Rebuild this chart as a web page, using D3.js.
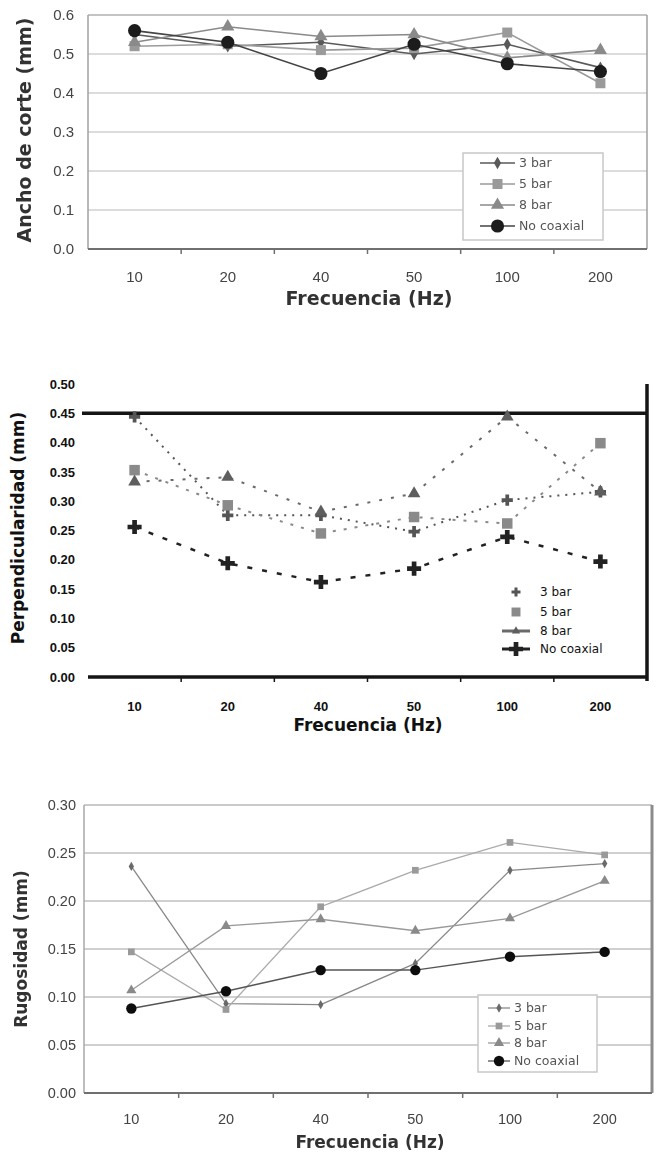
<!DOCTYPE html>
<meta charset="utf-8">
<title>Frecuencia (Hz)</title>
<script src="https://d3js.org/d3.v7.min.js"></script>
<style>
body { margin: 0; background: #fff; }
svg { display: block; font-family: 'DejaVu Sans', sans-serif; }
</style>
<body>
<svg id="chart" width="657" height="1154"></svg>
<script>
var freqLabels = ["10", "20", "40", "50", "100", "200"];
var seriesNames = ["3 bar", "5 bar", "8 bar", "No coaxial"];

// Ancho de corte (mm)
var anchoTicks = [0, 0.1, 0.2, 0.3, 0.4, 0.5, 0.6];
var ancho3bar = [0.55, 0.52, 0.53, 0.50, 0.525, 0.465];
var ancho5bar = [0.52, 0.525, 0.51, 0.515, 0.555, 0.425];
var ancho8bar = [0.53, 0.57, 0.545, 0.55, 0.49, 0.51];
var anchoNoCoaxial = [0.56, 0.53, 0.45, 0.525, 0.475, 0.455];

// Perpendicularidad (mm)
var perpTicks = [0, 0.05, 0.10, 0.15, 0.20, 0.25, 0.30, 0.35, 0.40, 0.45, 0.50];
var perp3bar = [0.444, 0.276, 0.276, 0.248, 0.302, 0.316];
var perp5bar = [0.353, 0.293, 0.245, 0.273, 0.262, 0.399];
var perp8bar = [0.333, 0.341, 0.282, 0.313, 0.444, 0.316];
var perpNoCoaxial = [0.256, 0.194, 0.162, 0.185, 0.239, 0.197];

// Rugosidad (mm)
var rugTicks = [0, 0.05, 0.10, 0.15, 0.20, 0.25, 0.30];
var rug3bar = [0.236, 0.093, 0.092, 0.135, 0.232, 0.239];
var rug5bar = [0.147, 0.087, 0.194, 0.232, 0.261, 0.248];
var rug8bar = [0.107, 0.174, 0.181, 0.169, 0.182, 0.221];
var rugNoCoaxial = [0.088, 0.106, 0.128, 0.128, 0.142, 0.147];

var svg = d3.select("#chart");
svg.append("defs").append("filter").attr("id", "soft")
    .append("feGaussianBlur").attr("stdDeviation", 0.7);

function drawChart(cfg) {
    var g = svg.append("g");
    if (cfg.blur) g.attr("filter", "url(#soft)");

    var x = d3.scaleBand().domain(freqLabels).range([cfg.left, cfg.right]);
    var y = d3.scaleLinear().domain(cfg.domain).range([cfg.bottom, cfg.top]);
    var cx = function(c) { return x(c) + x.bandwidth() / 2; };

    // grid lines
    g.selectAll(".grid").data(cfg.grid).enter().append("line")
        .attr("x1", cfg.gridX0 || cfg.left).attr("x2", cfg.right)
        .attr("y1", function(d) { return y(d); }).attr("y2", function(d) { return y(d); })
        .style("stroke", cfg.gridColor).style("stroke-width", cfg.gridWidth);

    // frame
    if (cfg.topColor) {
        g.append("line").attr("x1", cfg.left).attr("x2", cfg.right)
            .attr("y1", cfg.top).attr("y2", cfg.top)
            .style("stroke", cfg.topColor).style("stroke-width", 1.5);
    }
    if (cfg.leftColor) {
        g.append("line").attr("x1", cfg.left).attr("x2", cfg.left)
            .attr("y1", cfg.top).attr("y2", cfg.bottom)
            .style("stroke", cfg.leftColor).style("stroke-width", 1.5);
    }
    g.append("line").attr("x1", cfg.right).attr("x2", cfg.right)
        .attr("y1", cfg.top).attr("y2", cfg.bottom + cfg.rightExtra)
        .style("stroke", cfg.rightColor).style("stroke-width", cfg.rightWidth);
    g.append("line").attr("x1", cfg.left).attr("x2", cfg.right)
        .attr("y1", cfg.bottom).attr("y2", cfg.bottom)
        .style("stroke", cfg.axisColor).style("stroke-width", cfg.axisWidth);

    // x boundary ticks
    g.selectAll(".xtick").data(freqLabels.slice(1)).enter().append("line")
        .attr("x1", function(d) { return x(d); }).attr("x2", function(d) { return x(d); })
        .attr("y1", cfg.bottom).attr("y2", cfg.bottom + 5)
        .style("stroke", cfg.axisColor).style("stroke-width", 1.5);

    // y axis labels
    var ya = g.append("g").attr("transform", "translate(" + cfg.left + ",0)")
        .call(d3.axisLeft(y).tickValues(cfg.ticks).tickFormat(d3.format(cfg.fmt))
            .tickSize(0).tickPadding(cfg.yPad));
    ya.select(".domain").remove();
    ya.selectAll("text").style("font-size", cfg.tickFont + "px")
        .style("fill", cfg.textColor).style("font-weight", cfg.tickWeight);

    // x axis labels
    var xa = g.append("g").attr("transform", "translate(0," + cfg.bottom + ")")
        .call(d3.axisBottom(x).tickSize(0).tickPadding(cfg.xPad));
    xa.select(".domain").remove();
    xa.selectAll("text").style("font-size", cfg.tickFont + "px")
        .style("fill", cfg.textColor).style("font-weight", cfg.tickWeight);

    // titles
    g.append("text").attr("x", cfg.xTitle[0]).attr("y", cfg.xTitle[1])
        .attr("text-anchor", "middle").style("font-weight", "bold")
        .style("font-size", cfg.titleFont + "px").style("fill", cfg.titleColor)
        .text("Frecuencia (Hz)");
    g.append("text")
        .attr("transform", "translate(" + cfg.yTitle[0] + "," + cfg.yTitle[1] + ") rotate(-90)")
        .attr("text-anchor", "middle").attr("dy", "0.35em").style("font-weight", "bold")
        .style("font-size", cfg.titleFont + "px").style("fill", cfg.titleColor)
        .text(cfg.yLabel);

    // series
    var line = d3.line().x(function(d) { return cx(d.c); }).y(function(d) { return y(d.v); });
    cfg.series.forEach(function(vals, i) {
        var st = cfg.styles[i];
        var pts = vals.map(function(v, j) { return { c: freqLabels[j], v: v }; });
        g.append("path").datum(pts).attr("d", line)
            .style("fill", "none").style("stroke", st.line || st.color)
            .style("stroke-width", st.width).style("stroke-dasharray", st.dash || null);
    });
    cfg.series.forEach(function(vals, i) {
        var st = cfg.styles[i];
        var sym = d3.symbol().type(st.symbol).size(st.size);
        g.selectAll(null).data(vals).enter().append("path")
            .attr("d", sym)
            .attr("transform", function(d, j) { return "translate(" + cx(freqLabels[j]) + "," + y(d) + ")"; })
            .style("fill", st.color);
    });

    // legend
    var L = cfg.legend;
    if (L.box) {
        g.append("rect").attr("x", L.box[0]).attr("y", L.box[1])
            .attr("width", L.box[2] - L.box[0]).attr("height", L.box[3] - L.box[1])
            .style("fill", "#fff").style("stroke", "#c8c8c8").style("stroke-width", 1.5);
    }
    seriesNames.forEach(function(name, i) {
        var st = cfg.styles[i];
        var ly = L.y[i];
        if (st.legendLine !== false) {
            g.append("line").attr("x1", L.x0).attr("x2", L.x1).attr("y1", ly).attr("y2", ly)
                .style("stroke", st.line || st.color).style("stroke-width", L.lineWidth || st.width);
        }
        g.append("path").attr("d", d3.symbol().type(st.symbol).size(st.legendSize || st.size))
            .attr("transform", "translate(" + (L.x0 + L.x1) / 2 + "," + ly + ")")
            .style("fill", st.color);
        g.append("text").attr("x", L.tx).attr("y", ly).attr("dy", "0.35em")
            .style("font-size", L.font + "px").style("fill", L.color).text(name);
    });
}

// chart 1: Ancho de corte
drawChart({
    blur: true,
    left: 88, right: 647, top: 15, bottom: 249,
    domain: [0, 0.6], ticks: anchoTicks, fmt: ".1f",
    grid: anchoTicks.slice(1, 6), gridColor: "#dcdcdc", gridWidth: 2,
    topColor: "#b0b0b0", leftColor: "#a0a0a0",
    rightColor: "#a0a0a0", rightWidth: 1.5, rightExtra: 0,
    axisColor: "#707070", axisWidth: 2,
    yPad: 14, xPad: 22, tickFont: 15, tickWeight: "normal", textColor: "#444",
    titleFont: 19, titleColor: "#333",
    xTitle: [369, 305], yTitle: [24, 130], yLabel: "Ancho de corte (mm)",
    series: [ancho3bar, ancho5bar, ancho8bar, anchoNoCoaxial],
    styles: [
        { color: "#5a5a5a", symbol: d3.symbolDiamond, size: 45, width: 1.6 },
        { color: "#9a9a9a", symbol: d3.symbolSquare, size: 100, width: 1.6 },
        { color: "#8a8a8a", symbol: d3.symbolTriangle, size: 75, width: 1.6 },
        { color: "#1a1a1a", symbol: d3.symbolCircle, size: 135, width: 1.6, line: "#444" }
    ],
    legend: { box: [463, 153, 603, 240], x0: 480, x1: 515, tx: 519, y: [163, 184, 205, 226],
        font: 12.5, color: "#555", lineWidth: 1.5 }
});

// chart 2: Perpendicularidad
drawChart({
    blur: false,
    left: 88, right: 647, top: 384, bottom: 677,
    domain: [0, 0.5], ticks: perpTicks, fmt: ".2f",
    grid: [0.45], gridX0: 82, gridColor: "#151515", gridWidth: 3.5,
    topColor: null, leftColor: null,
    rightColor: "#151515", rightWidth: 3.5, rightExtra: 4,
    axisColor: "#151515", axisWidth: 3.5,
    yPad: 13, xPad: 25, tickFont: 13, tickWeight: "bold", textColor: "#111",
    titleFont: 17, titleColor: "#111",
    xTitle: [368, 731], yTitle: [18, 528], yLabel: "Perpendicularidad (mm)",
    series: [perp3bar, perp5bar, perp8bar, perpNoCoaxial],
    styles: [
        { color: "#555", symbol: d3.symbolCross, size: 70, width: 2, dash: "2,6", legendLine: false, legendSize: 45 },
        { color: "#8a8a8a", symbol: d3.symbolSquare, size: 110, width: 2, dash: "3,8", legendLine: false, legendSize: 80 },
        { color: "#5e5e5e", symbol: d3.symbolTriangle, size: 70, width: 2, dash: "3,9", line: "#6a6a6a", legendSize: 30 },
        { color: "#222", symbol: d3.symbolCross, size: 110, width: 2.5, dash: "5,10" }
    ],
    legend: { box: null, x0: 502, x1: 530, tx: 540, y: [592, 612, 631, 649],
        font: 12, color: "#111", lineWidth: 3 }
});

// chart 3: Rugosidad
drawChart({
    blur: true,
    left: 84, right: 652, top: 805, bottom: 1093,
    domain: [0, 0.30], ticks: rugTicks, fmt: ".2f",
    grid: rugTicks.slice(1, 6), gridColor: "#d0d0d0", gridWidth: 1.8,
    topColor: "#b8b8b8", leftColor: "#a8a8a8",
    rightColor: "#8c8c8c", rightWidth: 3, rightExtra: 0,
    axisColor: "#707070", axisWidth: 2,
    yPad: 8, xPad: 21, tickFont: 14.5, tickWeight: "normal", textColor: "#444",
    titleFont: 17, titleColor: "#333",
    xTitle: [370, 1148], yTitle: [21, 949], yLabel: "Rugosidad (mm)",
    series: [rug3bar, rug5bar, rug8bar, rugNoCoaxial],
    styles: [
        { color: "#6a6a6a", symbol: d3.symbolDiamond, size: 25, width: 1.3, line: "#888" },
        { color: "#9a9a9a", symbol: d3.symbolSquare, size: 45, width: 1.3, line: "#aaa" },
        { color: "#8a8a8a", symbol: d3.symbolTriangle, size: 45, width: 1.3, line: "#999" },
        { color: "#111", symbol: d3.symbolCircle, size: 85, width: 1.5, line: "#555" }
    ],
    legend: { box: [478, 995, 597, 1072], x0: 488, x1: 510, tx: 514, y: [1008, 1026, 1043, 1061],
        font: 12.5, color: "#555", lineWidth: 1.3 }
});
</script>
</body>
